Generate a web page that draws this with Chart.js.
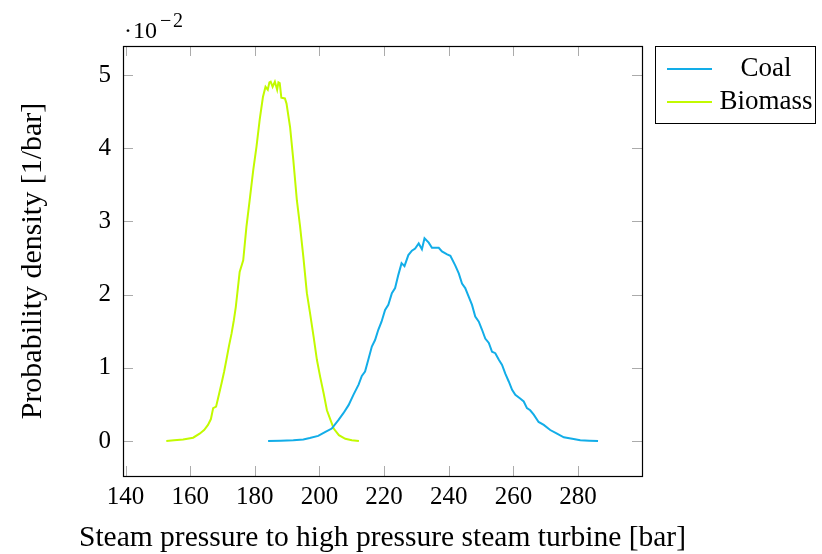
<!DOCTYPE html>
<html>
<head>
<meta charset="utf-8">
<script src="https://cdn.jsdelivr.net/npm/chart.js@4/dist/chart.umd.min.js"></script>
<style>
html,body{margin:0;padding:0;background:#fff;}
#wrap{width:822px;height:554px;}
</style>
</head>
<body>
<div id="wrap"><canvas id="c" width="822" height="554"></canvas></div>
<script>
// ---- data (values in units of 10^-2 per bar) ----
const seriesNames = ["Coal", "Biomass"];
const coalX = [184.1, 188, 191.9, 195.0, 197.0, 199.6, 201.7, 203.8, 205.9, 207.4, 209.0, 210.5, 212.1, 213.1, 214.1, 215.1, 216.2, 217.2, 218.2, 219.2, 220.3, 221.3, 222.4, 223.4, 224.4, 225.4, 226.3, 227.5, 228.6, 229.6, 230.7, 231.7, 232.5, 233.8, 234.8, 236.9, 237.9, 239.5, 240.5, 242.0, 243.1, 244.1, 245.1, 246.2, 247.2, 248.2, 249.3, 250.3, 251.3, 252.4, 253.4, 254.4, 255.5, 256.5, 257.5, 258.6, 259.6, 260.6, 262.1, 263.2, 264.2, 265.2, 266.3, 267.8, 269.4, 271.4, 273.5, 275.6, 278.2, 280.7, 283.5, 286.2];
const coalY = [0, 0.005, 0.01, 0.02, 0.04, 0.07, 0.12, 0.17, 0.29, 0.38, 0.49, 0.63, 0.77, 0.89, 0.95, 1.11, 1.29, 1.38, 1.52, 1.63, 1.79, 1.86, 2.02, 2.09, 2.27, 2.43, 2.39, 2.54, 2.60, 2.63, 2.70, 2.62, 2.77, 2.71, 2.64, 2.64, 2.59, 2.55, 2.53, 2.40, 2.29, 2.15, 2.09, 1.97, 1.86, 1.70, 1.63, 1.52, 1.40, 1.34, 1.22, 1.20, 1.11, 1.04, 0.92, 0.81, 0.70, 0.63, 0.58, 0.54, 0.45, 0.42, 0.36, 0.26, 0.22, 0.15, 0.10, 0.05, 0.03, 0.01, 0.005, 0];
const biomassX = [152.6, 155, 157.8, 160.9, 162.9, 164.3, 165.5, 166.4, 167.1, 168.0, 168.6, 169.7, 170.5, 171.2, 172.0, 172.8, 173.5, 174.1, 175.3, 176.4, 177.4, 178.4, 179.5, 180.5, 181.5, 182.5, 183.3, 184.0, 184.5, 184.9, 185.5, 186.2, 186.9, 187.3, 187.7, 188.2, 189.3, 189.8, 190.9, 191.9, 193.0, 194.0, 195.0, 196.1, 197.1, 198.2, 199.2, 200.2, 201.3, 202.3, 203.4, 204.4, 206.0, 208.0, 210, 212.2];
const biomassY = [0, 0.01, 0.02, 0.045, 0.1, 0.15, 0.22, 0.3, 0.45, 0.47, 0.58, 0.79, 0.95, 1.11, 1.3, 1.47, 1.65, 1.83, 2.31, 2.47, 2.93, 3.29, 3.70, 4.02, 4.39, 4.70, 4.84, 4.80, 4.90, 4.91, 4.84, 4.91, 4.80, 4.90, 4.89, 4.69, 4.68, 4.61, 4.29, 3.84, 3.29, 2.93, 2.52, 2.02, 1.74, 1.42, 1.11, 0.88, 0.65, 0.42, 0.29, 0.17, 0.08, 0.03, 0.01, 0];
const xTickValues = [140, 160, 180, 200, 220, 240, 260, 280];
const yTickValues = [0, 1, 2, 3, 4, 5];
const xTitle = "Steam pressure to high pressure steam turbine [bar]";
const yTitle = "Probability density [1/bar]";

const FONT = "'Liberation Serif', 'DejaVu Serif', serif";
const colors = ["#12ADE8", "#C2FA00"];

const toPts = (xs, ys) => xs.map((x, i) => ({x: x, y: ys[i]}));

const framePlugin = {
  id: 'frame',
  beforeDatasetsDraw(chart) {
    const {ctx, chartArea: a, scales: {x, y}} = chart;
    ctx.save();
    ctx.strokeStyle = '#ababab';
    ctx.lineWidth = 1;
    const L = 10;
    ctx.beginPath();
    xTickValues.forEach(v => {
      const px = Math.round(x.getPixelForValue(v)) + 0.5;
      ctx.moveTo(px, a.bottom); ctx.lineTo(px, a.bottom - L);
      ctx.moveTo(px, a.top); ctx.lineTo(px, a.top + L);
    });
    yTickValues.forEach(v => {
      const py = Math.round(y.getPixelForValue(v)) + 0.5;
      ctx.moveTo(a.left, py); ctx.lineTo(a.left + L, py);
      ctx.moveTo(a.right, py); ctx.lineTo(a.right - L, py);
    });
    ctx.stroke();
    ctx.restore();
  },
  afterDraw(chart) {
    const {ctx, chartArea: a} = chart;
    ctx.save();
    ctx.strokeStyle = '#000';
    ctx.lineWidth = 1.2;
    ctx.strokeRect(a.left + 0.5, a.top + 0.5, a.right - a.left, a.bottom - a.top);
    // x axis title (drawn here so it may be wider than the plot area)
    ctx.fillStyle = '#000';
    ctx.font = "29.5px " + FONT;
    ctx.textAlign = 'center';
    ctx.textBaseline = 'alphabetic';
    ctx.fillText(xTitle, (a.left + a.right) / 2, 546);
    // multiplier label
    ctx.textAlign = 'left';
    ctx.font = "24px " + FONT;
    ctx.fillText("\u00B7", 124, 38);
    ctx.fillText("10", 133, 38);
    ctx.font = "20px " + FONT;
    ctx.fillText("\u2212", 160, 27);
    ctx.fillText("2", 173, 27);
    // legend
    const bx = 655.5, by = 46.5, bw = 160, bh = 77;
    ctx.lineWidth = 1;
    ctx.strokeRect(bx, by, bw, bh);
    const rowsY = [69, 102];
    chart.data.datasets.forEach((ds, i) => {
      ctx.strokeStyle = ds.borderColor;
      ctx.lineWidth = 2;
      ctx.beginPath();
      ctx.moveTo(667, rowsY[i]); ctx.lineTo(712, rowsY[i]);
      ctx.stroke();
      ctx.fillStyle = '#000';
      ctx.font = "27px " + FONT;
      ctx.textAlign = 'center';
      ctx.textBaseline = 'middle';
      ctx.fillText(ds.label, 766, rowsY[i]);
    });
    ctx.restore();
  }
};

new Chart(document.getElementById('c'), {
  type: 'scatter',
  data: {
    datasets: [
      {label: seriesNames[0], data: toPts(coalX, coalY), borderColor: colors[0], backgroundColor: colors[0], showLine: true, pointRadius: 0, borderWidth: 2, tension: 0},
      {label: seriesNames[1], data: toPts(biomassX, biomassY), borderColor: colors[1], backgroundColor: colors[1], showLine: true, pointRadius: 0, borderWidth: 2, tension: 0}
    ]
  },
  options: {
    responsive: false,
    animation: false,
    devicePixelRatio: 1,
    layout: {padding: {left: 0, top: 46, right: 180, bottom: 0}},
    plugins: {legend: {display: false}, tooltip: {enabled: false}},
    scales: {
      x: {
        type: 'linear', position: 'bottom', min: 139.2, max: 299.8,
        grid: {display: false, drawTicks: false},
        border: {display: false},
        afterBuildTicks: s => { s.ticks = xTickValues.map(v => ({value: v})); },
        afterFit: s => { s.height = 78; },
        ticks: {color: '#000', font: {family: FONT, size: 25}, padding: 6, maxRotation: 0, callback: v => String(v)},
        title: {display: false}
      },
      y: {
        type: 'linear', position: 'left', min: -0.478, max: 5.397,
        grid: {display: false, drawTicks: false},
        border: {display: false},
        afterBuildTicks: s => { s.ticks = yTickValues.map(v => ({value: v})); },
        afterFit: s => { s.width = 123; },
        ticks: {color: '#000', font: {family: FONT, size: 25}, padding: 12, callback: v => String(v)},
        title: {display: true, text: yTitle, color: '#000', font: {family: FONT, size: 30}, padding: {top: 15, bottom: 0}}
      }
    }
  },
  plugins: [framePlugin]
});
</script>
</body>
</html>
